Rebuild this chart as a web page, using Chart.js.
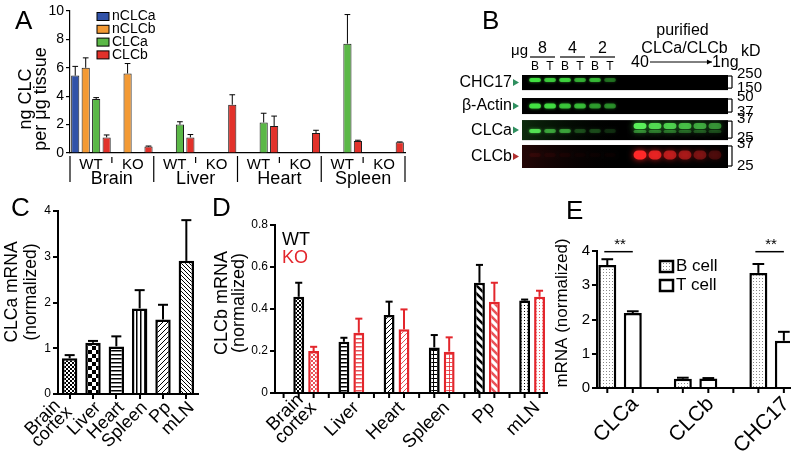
<!DOCTYPE html>
<html>
<head>
<meta charset="utf-8">
<title>Clathrin light chain levels</title>
<script src="https://cdn.jsdelivr.net/npm/chart.js@4.4.1/dist/chart.umd.min.js"></script>
<style>
  body { margin: 0; background: #fff; }
  #fig { position: relative; width: 800px; height: 457px; overflow: hidden;
         font-family: 'Liberation Sans', Arial, Helvetica, sans-serif; }
  .panel { position: absolute; }
  .tag { position: absolute; font-size: 26px; line-height: 1; color: #000; }
</style>
</head>
<body>
<div id="fig">
  <div class="panel" style="left:0;top:0;width:420px;height:200px"><canvas id="chartA"></canvas></div>
  <div class="panel" style="left:440px;top:0;width:360px;height:190px"><canvas id="chartB"></canvas></div>
  <div class="panel" style="left:0;top:190px;width:212px;height:267px"><canvas id="chartC"></canvas></div>
  <div class="panel" style="left:205px;top:190px;width:350px;height:267px"><canvas id="chartD"></canvas></div>
  <div class="panel" style="left:545px;top:190px;width:255px;height:267px"><canvas id="chartE"></canvas></div>
  <div class="tag" style="left:15px;top:7px">A</div>
  <div class="tag" style="left:482px;top:7px">B</div>
  <div class="tag" style="left:11px;top:194px">C</div>
  <div class="tag" style="left:212px;top:194px">D</div>
  <div class="tag" style="left:566px;top:197px">E</div>
</div>
<script>
// ---- A: ng clathrin light chain per ug tissue ----
const aGroups = ['WT', 'KO', 'WT', 'KO', 'WT', 'KO', 'WT', 'KO'];
const aOrgans = ['Brain', 'Liver', 'Heart', 'Spleen'];
const aSeries = ['nCLCa', 'nCLCb', 'CLCa', 'CLCb'];
const aNCLCa = [5.45, null, null, null, null, null, null, null];
const aNCLCb = [6.0, 5.6, null, null, null, null, null, null];
const aCLCa = [3.8, null, 2.0, null, 2.15, null, 7.7, null];
const aCLCb = [1.1, 0.45, 1.1, 3.4, 1.9, 1.4, 0.85, 0.75];
// top of the error whisker
const aNCLCaErr = [6.1, null, null, null, null, null, null, null];
const aNCLCbErr = [6.7, 6.3, null, null, null, null, null, null];
const aCLCaErr = [3.9, null, 2.2, null, 2.8, null, 9.75, null];
const aCLCbErr = [1.27, 0.49, 1.3, 4.1, 2.6, 1.6, 0.9, 0.78];

// ---- B: western blot, B and T cell lysate vs purified light chains ----
const bRows = ['CHC17', 'β-Actin', 'CLCa', 'CLCb'];
const bLoad = ['8', '4', '2'];
const bCells = ['B', 'T', 'B', 'T', 'B', 'T'];
const bMarkers = [['250', '150'], ['50', '37'], ['37', '25'], ['37', '25']];
// band intensity per lane: 6 lysate lanes, empty lane, purified 40 -> 1 ng
const bCHC17 = [0.9, 0.75, 0.8, 0.6, 0.65, 0.35, null, 0, 0, 0, 0, 0, 0];
const bActin = [0.9, 0.85, 0.7, 0.65, 0.5, 0.45, null, 0, 0, 0, 0, 0, 0];
const bCLCa = [0.85, 0.5, 0.5, 0.2, 0.2, 0.12, null, 1, 0.85, 0.8, 0.7, 0.6, 0.5];
const bCLCb = [0.06, 0.04, 0.03, 0.02, 0.02, 0.02, null, 1, 0.8, 0.6, 0.5, 0.35, 0.2];

// ---- C: CLCa mRNA by tissue ----
const cTissues = [['Brain', 'cortex'], 'Liver', 'Heart', 'Spleen', 'Pp', 'mLN'];
const cCLCa = [0.78, 1.12, 1.04, 1.87, 1.63, 2.91];
const cCLCaErr = [0.85, 1.16, 1.26, 2.27, 1.95, 3.8];

// ---- D: CLCb mRNA, WT vs KO ----
const dWT = [0.458, 0.244, 0.371, 0.217, 0.525, 0.44];
const dWTErr = [0.525, 0.263, 0.435, 0.276, 0.61, 0.445];
const dKO = [0.2, 0.287, 0.303, 0.197, 0.435, 0.458];
const dKOErr = [0.22, 0.354, 0.398, 0.265, 0.525, 0.487];

// ---- E: B vs T cell mRNA ----
const eGenes = ['CLCa', 'CLCb', 'CHC17'];
const eBcell = [3.59, 0.27, 3.36];
const eBcellErr = [3.76, 0.3, 3.62];
const eTcell = [2.19, 0.28, 1.38];
const eTcellErr = [2.24, 0.29, 1.64];
const eStars = ['**', null, '**'];

const FONT = "'Liberation Sans', Arial, Helvetica, sans-serif";
const KO_RED = '#e3262c';
Chart.defaults.font.family = FONT;
Chart.defaults.color = '#000';
Chart.defaults.animation = false;
Chart.defaults.maintainAspectRatio = false;
Chart.defaults.plugins.legend.display = false;
Chart.defaults.plugins.tooltip.enabled = false;

function hText(ctx, text, x, y, size, align, color) {
  ctx.save();
  ctx.font = size + 'px ' + FONT;
  ctx.textAlign = align || 'center';
  ctx.textBaseline = 'middle';
  ctx.fillStyle = color || '#000';
  ctx.fillText(text, x, y);
  ctx.restore();
}

function vText(ctx, lines, cx, cy, size, lh) {
  ctx.save();
  ctx.translate(cx, cy);
  ctx.rotate(-Math.PI / 2);
  ctx.font = size + 'px ' + FONT;
  ctx.textAlign = 'center';
  ctx.textBaseline = 'middle';
  ctx.fillStyle = '#000';
  const off = (lines.length - 1) * lh / 2;
  lines.forEach((t, i) => ctx.fillText(t, 0, -off + i * lh));
  ctx.restore();
}

function line(ctx, x1, y1, x2, y2) {
  ctx.beginPath();
  ctx.moveTo(x1, y1);
  ctx.lineTo(x2, y2);
  ctx.stroke();
}

// hatch fills like the GraphPad bars
function pattern(kind, color) {
  const sizes = { fine: 4, check: 8, hline: 4, vline: 4, grid: 4, dots: 3, diag: 5, back: 4, bold: 8 };
  const n = sizes[kind];
  const c = document.createElement('canvas');
  c.width = n;
  c.height = n;
  const g = c.getContext('2d');
  g.fillStyle = '#fff';
  g.fillRect(0, 0, n, n);
  g.fillStyle = color;
  g.strokeStyle = color;
  const strokes = (w, segs) => {
    g.lineWidth = w;
    g.beginPath();
    segs.forEach(s => { g.moveTo(s[0], s[1]); g.lineTo(s[2], s[3]); });
    g.stroke();
  };
  const slash = [[0, n, n, 0], [-1, 1, 1, -1], [n - 1, n + 1, n + 1, n - 1]];
  const back = [[0, 0, n, n], [-1, n - 1, 1, n + 1], [n - 1, -1, n + 1, 1]];
  if (kind === 'fine') { g.fillRect(0, 0, 2, 2); g.fillRect(2, 2, 2, 2); }
  else if (kind === 'check') { g.fillRect(0, 0, 4, 4); g.fillRect(4, 4, 4, 4); }
  else if (kind === 'hline') g.fillRect(0, 0, n, 1.5);
  else if (kind === 'vline') g.fillRect(0, 0, 1.5, n);
  else if (kind === 'grid') { g.fillRect(0, 0, n, 1); g.fillRect(0, 0, 1, n); }
  else if (kind === 'dots') g.fillRect(1, 1, 1, 1);
  else if (kind === 'diag') strokes(1, slash);
  else if (kind === 'back') strokes(1, back);
  else if (kind === 'bold') strokes(2.5, back);
  return g.createPattern(c, 'repeat');
}

const errorBars = {
  id: 'errorBars',
  afterDatasetsDraw(chart, args, opts) {
    const { ctx } = chart;
    const ys = chart.scales.y;
    chart.data.datasets.forEach((ds, i) => {
      if (!ds.errTop) return;
      ctx.save();
      ctx.strokeStyle = ds.errColor || '#000';
      ctx.lineWidth = opts.width;
      chart.getDatasetMeta(i).data.forEach((bar, j) => {
        const top = ds.errTop[j];
        if (top == null) return;
        const yt = ys.getPixelForValue(top);
        const half = bar.width * opts.cap / 2;
        line(ctx, bar.x, bar.y, bar.x, yt);
        line(ctx, bar.x - half, yt, bar.x + half, yt);
      });
      ctx.restore();
    });
  }
};

// short tick marks under each bar and between groups
const barTicks = {
  id: 'barTicks',
  afterDraw(chart, args, opts) {
    const { ctx, chartArea } = chart;
    const xs = chart.scales.x;
    const pos = [];
    chart.data.datasets.forEach((ds, i) => chart.getDatasetMeta(i).data.forEach(b => pos.push(b.x)));
    opts.between.forEach(v => pos.push(xs.getPixelForValue(v)));
    ctx.save();
    ctx.strokeStyle = '#000';
    ctx.lineWidth = 2;
    pos.forEach(px => line(ctx, px, chartArea.bottom, px, chartArea.bottom + 5));
    ctx.restore();
  }
};

// 45 degree category labels, right end hooked just below the tick
const slantLabels = {
  id: 'slantLabels',
  afterDraw(chart, args, opts) {
    const { ctx, chartArea } = chart;
    const xs = chart.scales.x;
    opts.labels.forEach((lab, i) => {
      const lines = Array.isArray(lab) ? lab : [lab];
      const multi = lines.length > 1;
      ctx.save();
      ctx.translate(xs.getPixelForValue(i) + opts.dx + (multi ? opts.mdx : 0),
                    chartArea.bottom + opts.dy + (multi ? opts.mdy : 0));
      ctx.rotate(-Math.PI / 4);
      ctx.font = opts.size + 'px ' + FONT;
      ctx.textAlign = 'center';
      ctx.textBaseline = 'middle';
      ctx.fillStyle = '#000';
      const w = Math.max(...lines.map(t => ctx.measureText(t).width));
      const off = (lines.length - 1) * opts.lh / 2;
      lines.forEach((t, k) => ctx.fillText(t, -w / 2, -off + k * opts.lh));
      ctx.restore();
    });
  }
};

function yTitle(id, lines, cx, cy, size, lh) {
  return { id: id, afterDraw(chart) { vText(chart.ctx, lines, cx, cy, size, lh); } };
}

function yAxis(max, step, size, width, boxWidth) {
  return {
    min: 0,
    max: max,
    ticks: { stepSize: step, font: { size: size }, padding: 2 },
    grid: { drawOnChartArea: false, tickLength: 5, color: '#000', lineWidth: width },
    border: { color: '#000', width: width },
    afterFit(s) { s.width = boxWidth; }
  };
}

// ---------------- panel A ----------------
const aColors = ['#3152a8', '#f39a34', '#5bb847', '#e2312a'];
const panelAExtras = {
  id: 'panelAExtras',
  afterDraw(chart) {
    const { ctx, chartArea } = chart;
    const xs = chart.scales.x;
    const w = xs.getPixelForValue(1) - xs.getPixelForValue(0);
    const b = chartArea.bottom;
    ctx.save();
    ctx.strokeStyle = '#000';
    ctx.lineWidth = 1.2;
    aOrgans.forEach((name, k) => {
      const wt = xs.getPixelForValue(2 * k);
      const ko = xs.getPixelForValue(2 * k + 1);
      const mid = (wt + ko) / 2;
      line(ctx, wt - w / 2, b + 3, wt - w / 2, b + 29);
      if (k === aOrgans.length - 1) line(ctx, ko + w / 2, b + 3, ko + w / 2, b + 29);
      line(ctx, mid, b + 4, mid, b + 10);
      hText(ctx, name, mid, b + 26, 18, 'center');
    });
    aSeries.forEach((s, i) => {
      const y = chartArea.top + 5.5 + i * 12.8;
      const x = chartArea.left + 27;
      ctx.fillStyle = aColors[i];
      ctx.fillRect(x, y - 4, 12, 8);
      ctx.lineWidth = 1;
      ctx.strokeRect(x, y - 4, 12, 8);
      hText(ctx, s, x + 15, y, 14, 'left');
    });
    ctx.restore();
    vText(ctx, ['ng CLC', 'per μg tissue'], 34, 99, 18, 15);
  }
};

new Chart(document.getElementById('chartA'), {
  type: 'bar',
  data: {
    labels: aGroups,
    datasets: [aNCLCa, aNCLCb, aCLCa, aCLCb].map((d, i) => ({
      label: aSeries[i],
      data: d,
      errTop: [aNCLCaErr, aNCLCbErr, aCLCaErr, aCLCbErr][i],
      backgroundColor: aColors[i],
      borderColor: '#1a1a1a',
      borderWidth: 1,
      categoryPercentage: 1.0,
      barPercentage: 0.78
    }))
  },
  options: {
    layout: { padding: { top: 11, right: 15 } },
    scales: {
      x: {
        grid: { drawOnChartArea: false, drawTicks: false },
        border: { color: '#000', width: 1.2 },
        ticks: { font: { size: 15 }, padding: 3 },
        afterFit(s) { s.height = 47; }
      },
      y: {
        min: 0, max: 10,
        ticks: { stepSize: 2, font: { size: 14 }, padding: 2 },
        grid: { drawOnChartArea: false, tickLength: 4, color: '#000', lineWidth: 1.2 },
        border: { color: '#000', width: 1.2 },
        afterFit(s) { s.width = 70; }
      }
    },
    plugins: { errorBars: { width: 1, cap: 0.7 } }
  },
  plugins: [errorBars, panelAExtras]
});

// ---------------- panel B ----------------
const blotStrips = [
  { top: 0, h: 0.65, band: 0.33, bandH: 4, rgb: '70,235,70', glow: 'rgba(60,220,60,0.8)', arrow: '#2f8f5f' },
  { top: 0.99, h: 0.69, band: 0.5, bandH: 5, rgb: '70,235,70', glow: 'rgba(60,220,60,0.8)', arrow: '#2f8f5f' },
  { top: 1.94, h: 0.86, band: 0.55, bandP: 0.3, bandH: 4, bigH: 6, doublet: true,
    rgb: '90,240,90', glow: 'rgba(70,230,70,0.8)', arrow: '#2f8f5f', haze: 'rgba(25,85,25,0.5)' },
  { top: 3.01, h: 0.99, band: 0.43, bandP: 0.43, bandH: 4, bigH: 9,
    rgb: '255,40,40', glow: 'rgba(255,30,30,0.9)', arrow: '#b03030', haze: 'rgba(60,10,10,0.6)' }
];

const blot = {
  id: 'blot',
  afterDraw(chart) {
    const { ctx } = chart;
    const xs = chart.scales.x;
    const ys = chart.scales.y;
    const lane = i => xs.getPixelForValue(i);
    const L = xs.getPixelForValue(xs.min);
    const R = xs.getPixelForValue(xs.max);
    const lw = lane(1) - lane(0);
    [bCHC17, bActin, bCLCa, bCLCb].forEach((row, r) => {
      const st = blotStrips[r];
      const top = ys.getPixelForValue(st.top);
      const bot = ys.getPixelForValue(st.top + st.h);
      ctx.fillStyle = '#000';
      ctx.fillRect(L, top, R - L, bot - top);
      if (st.haze) {
        const g = ctx.createLinearGradient(L, 0, lane(6), 0);
        g.addColorStop(0, st.haze);
        g.addColorStop(1, 'rgba(0,0,0,0)');
        ctx.fillStyle = g;
        ctx.fillRect(L, top, lane(6) - L, bot - top);
      }
      ctx.save();
      ctx.beginPath();
      ctx.rect(L, top, R - L, bot - top);
      ctx.clip();
      row.forEach((v, i) => {
        if (!v) return;
        const purified = i > 6;
        const h = purified ? st.bigH : st.bandH;
        const yc = ys.getPixelForValue(st.top + (purified ? st.bandP : st.band) * st.h);
        const bw = lw * (purified ? 0.86 : 0.78);
        ctx.save();
        ctx.shadowColor = st.glow;
        ctx.shadowBlur = purified ? 6 : 3;
        ctx.fillStyle = 'rgba(' + st.rgb + ',' + v + ')';
        ctx.beginPath();
        ctx.roundRect(lane(i) - bw / 2, yc - h / 2, bw, h, h / 2);
        ctx.fill();
        if (purified && st.doublet) {
          ctx.fillStyle = 'rgba(' + st.rgb + ',' + (v * 0.45) + ')';
          ctx.beginPath();
          ctx.roundRect(lane(i) - bw / 2, yc + h / 2 + 1, bw, 3, 1.5);
          ctx.fill();
        }
        ctx.restore();
      });
      ctx.restore();
      const mid = (top + bot) / 2;
      hText(ctx, bRows[r], L - 10, mid, 16, 'right');
      ctx.fillStyle = st.arrow;
      ctx.beginPath();
      ctx.moveTo(L - 9, mid - 3.5);
      ctx.lineTo(L - 9, mid + 3.5);
      ctx.lineTo(L - 3, mid);
      ctx.closePath();
      ctx.fill();
      ctx.strokeStyle = '#000';
      ctx.lineWidth = 1.2;
      line(ctx, R + 4, top + 1, R + 4, bot - 2);
      line(ctx, R, top + 1, R + 4, top + 1);
      line(ctx, R, bot - 2, R + 4, bot - 2);
      hText(ctx, bMarkers[r][0], R + 9, top - 1, 15, 'left');
      hText(ctx, bMarkers[r][1], R + 9, bot - 2, 15, 'left');
    });
    // lane headers
    ctx.strokeStyle = '#000';
    ctx.lineWidth = 1.2;
    hText(ctx, 'μg', lane(0) - 7, 51, 15, 'right');
    bLoad.forEach((t, k) => {
      const a = lane(2 * k), b = lane(2 * k + 1);
      hText(ctx, t, (a + b) / 2, 49, 16, 'center');
      line(ctx, a - 5, 57, b + 5, 57);
    });
    bCells.forEach((t, i) => hText(ctx, t, lane(i), 67, 12, 'center'));
    const pMid = (lane(7) + lane(12)) / 2;
    hText(ctx, 'purified', pMid + 5, 31, 16, 'center');
    hText(ctx, 'CLCa/CLCb', pMid + 7, 49, 16, 'center');
    hText(ctx, 'kD', R + 13, 52, 16, 'left');
    hText(ctx, '40', lane(7), 63, 16, 'center');
    const tip = lane(11) + 12;
    ctx.lineWidth = 1;
    line(ctx, lane(7) + 10, 62, tip, 62);
    ctx.fillStyle = '#000';
    ctx.beginPath();
    ctx.moveTo(tip, 62);
    ctx.lineTo(tip - 5, 59.5);
    ctx.lineTo(tip - 5, 64.5);
    ctx.closePath();
    ctx.fill();
    hText(ctx, '1ng', tip, 63, 16, 'left');
  }
};

new Chart(document.getElementById('chartB'), {
  type: 'scatter',
  data: { datasets: [] },
  options: {
    layout: { padding: { left: 82, right: 72, top: 75, bottom: 22 } },
    scales: {
      x: { type: 'linear', display: false, min: -0.87, max: 12.87 },
      y: { type: 'linear', display: false, min: 0, max: 4, reverse: true }
    }
  },
  plugins: [blot]
});

// ---------------- panel C ----------------
const cFills = ['fine', 'check', 'hline', 'vline', 'diag', 'back'];
new Chart(document.getElementById('chartC'), {
  type: 'bar',
  data: {
    labels: cTissues,
    datasets: [{
      data: cCLCa,
      errTop: cCLCaErr,
      backgroundColor: cFills.map(k => pattern(k, '#000')),
      borderColor: '#000',
      borderWidth: 2.5,
      categoryPercentage: 1,
      barPercentage: 0.66
    }]
  },
  options: {
    layout: { padding: { top: 21, right: 14 } },
    scales: {
      x: {
        grid: { drawOnChartArea: false, offset: false, tickLength: 5, color: '#000', lineWidth: 2 },
        border: { color: '#000', width: 2 },
        ticks: { display: false },
        afterFit(s) { s.height = 63; }
      },
      y: yAxis(4, 1, 12, 2, 58)
    },
    plugins: {
      errorBars: { width: 2, cap: 0.65 },
      slantLabels: { labels: cTissues, size: 18, dx: 5, dy: 11, lh: 13, mdx: -10, mdy: 0 }
    }
  },
  plugins: [errorBars, slantLabels, yTitle('titleC', ['CLCa mRNA', '(normalized)'], 21.75, 102, 17.5, 19)]
});

// ---------------- panel D ----------------
const dFills = ['fine', 'hline', 'diag', 'grid', 'bold', 'dots'];
const KO_FILL = 'rgba(227,38,44,0.8)';
const legendD = {
  id: 'legendD',
  afterDraw(chart) {
    hText(chart.ctx, 'WT', 77, 50, 18, 'left', '#000');
    hText(chart.ctx, 'KO', 77, 68, 18, 'left', KO_RED);
  }
};
new Chart(document.getElementById('chartD'), {
  type: 'bar',
  data: {
    datasets: [
      { label: 'WT', data: dWT.map((v, i) => ({ x: i, y: v })), errTop: dWTErr, errColor: '#000',
        backgroundColor: dFills.map(k => pattern(k, '#000')), borderColor: '#000', borderWidth: 2.5,
        categoryPercentage: 0.66, barPercentage: 0.73 },
      { label: 'KO', data: dKO.map((v, i) => ({ x: i, y: v })), errTop: dKOErr, errColor: KO_RED,
        backgroundColor: dFills.map(k => pattern(k, KO_FILL)), borderColor: KO_RED, borderWidth: 2.5,
        categoryPercentage: 0.66, barPercentage: 0.73 }
    ]
  },
  options: {
    layout: { padding: { top: 35, right: 8 } },
    scales: {
      x: {
        type: 'linear', offset: false, min: -0.69, max: 5.33,
        afterBuildTicks(s) { s.ticks = cTissues.map((_, i) => ({ value: i })); },
        grid: { drawOnChartArea: false, drawTicks: false },
        border: { color: '#000', width: 2 },
        ticks: { display: false },
        afterFit(s) { s.height = 64; }
      },
      y: yAxis(0.8, 0.2, 12, 2, 70)
    },
    plugins: {
      errorBars: { width: 2, cap: 0.65 },
      barTicks: { between: cTissues.map((_, i) => i - 0.5) },
      slantLabels: { labels: cTissues, size: 18.5, dx: 5, dy: 12, lh: 15, mdx: -3, mdy: -5 }
    }
  },
  plugins: [errorBars, barTicks, slantLabels, legendD,
            yTitle('titleD', ['CLCb mRNA', '(normalized)'], 25.5, 113, 18, 17)]
});

// ---------------- panel E ----------------
const bCellFill = pattern('dots', '#8a8a8a');
const extrasE = {
  id: 'extrasE',
  afterDraw(chart) {
    const { ctx } = chart;
    const ys = chart.scales.y;
    const mB = chart.getDatasetMeta(0).data;
    const mT = chart.getDatasetMeta(1).data;
    ctx.save();
    ctx.strokeStyle = '#000';
    ctx.lineWidth = 1.5;
    eStars.forEach((s, i) => {
      if (!s) return;
      const y = ys.getPixelForValue(3.98);
      line(ctx, mB[i].x - 3, y, mT[i].x, y);
      hText(ctx, s, (mB[i].x + mT[i].x) / 2, y - 7, 15, 'center');
    });
    [['B cell', bCellFill], ['T cell', '#fff']].forEach((it, k) => {
      const y = 71 + k * 19;
      ctx.fillStyle = it[1];
      ctx.fillRect(115, y, 13, 11);
      ctx.lineWidth = 2.5;
      ctx.strokeRect(115, y, 13, 11);
      hText(ctx, it[0], 131, y + 5.5, 17, 'left');
    });
    ctx.restore();
  }
};
new Chart(document.getElementById('chartE'), {
  type: 'bar',
  data: {
    datasets: [
      { label: 'B cell', data: eBcell.map((v, i) => ({ x: i, y: v })), errTop: eBcellErr,
        backgroundColor: bCellFill, borderColor: '#000', borderWidth: 2.5,
        categoryPercentage: 0.675, barPercentage: 0.706 },
      { label: 'T cell', data: eTcell.map((v, i) => ({ x: i, y: v })), errTop: eTcellErr,
        backgroundColor: '#fff', borderColor: '#000', borderWidth: 2.5,
        categoryPercentage: 0.675, barPercentage: 0.706 }
    ]
  },
  options: {
    layout: { padding: { top: 61, right: 10 } },
    scales: {
      x: {
        type: 'linear', offset: false, min: -0.305, max: 2.25,
        afterBuildTicks(s) { s.ticks = eGenes.map((_, i) => ({ value: i })); },
        grid: { drawOnChartArea: false, drawTicks: false },
        border: { color: '#000', width: 2 },
        ticks: { display: false },
        afterFit(s) { s.height = 69; }
      },
      y: yAxis(4, 1, 15, 2, 52)
    },
    plugins: {
      errorBars: { width: 2, cap: 0.65 },
      barTicks: { between: eGenes.slice(1).map((_, i) => i + 0.5) },
      slantLabels: { labels: eGenes, size: 21, dx: 15, dy: 13, lh: 16, mdx: 0, mdy: 0 }
    }
  },
  plugins: [errorBars, barTicks, slantLabels, extrasE,
            yTitle('titleE', ['mRNA (normalized)'], 17, 123, 17, 17)]
});
</script>
</body>
</html>
